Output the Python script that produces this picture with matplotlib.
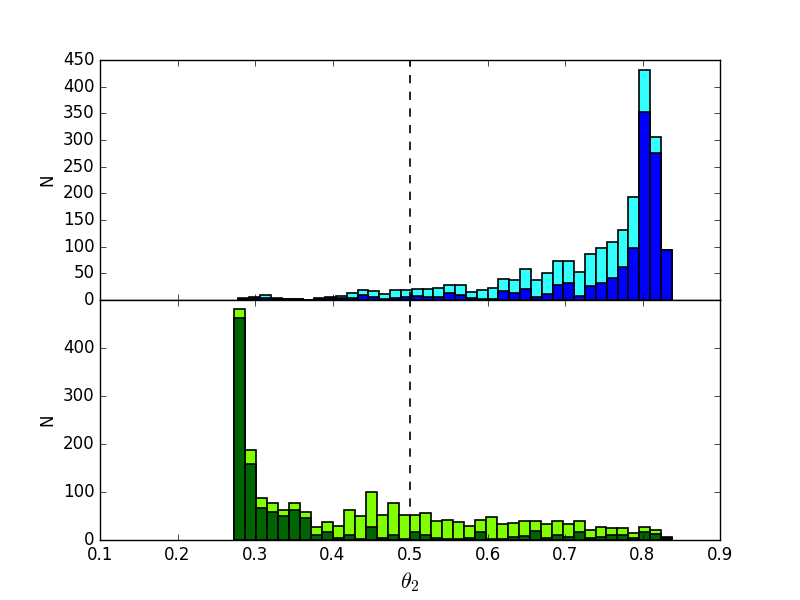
import numpy as np
import matplotlib
matplotlib.use('Agg')
import matplotlib.pyplot as plt

plt.style.use('classic')

# bin ranges (theta_2) for the two histograms, 40 bins each
top_range = (0.2787, 0.8378)
bot_range = (0.2735, 0.8382)
nbins = 40

# top panel: all (cyan) and subset (blue)
top_all = [3, 6, 9, 3, 2, 1, 0, 4, 6, 8, 14, 19, 16, 11, 18, 19, 20, 21, 22, 28,
           28, 15, 19, 23, 39, 37, 58, 38, 50, 74, 74, 53, 87, 98, 109, 131, 194, 432, 305, 94]
top_sub = [2, 4, 4, 2, 1, 1, 0, 2, 3, 4, 4, 9, 5, 2, 4, 5, 7, 6, 5, 14,
           10, 4, 1, 2, 17, 13, 21, 6, 12, 28, 32, 7, 27, 32, 41, 61, 98, 352, 276, 94]

# bottom panel: all (light green) and subset (dark green)
bot_all = [481, 187, 87, 78, 62, 78, 58, 28, 38, 29, 62, 51, 100, 52, 78, 53, 52, 57, 39, 41,
           37, 29, 42, 48, 33, 36, 39, 40, 34, 40, 34, 39, 21, 28, 24, 25, 15, 28, 21, 7]
bot_sub = [463, 159, 66, 58, 49, 63, 45, 10, 17, 5, 10, 3, 27, 4, 10, 3, 17, 11, 5, 3,
           2, 4, 17, 3, 2, 7, 8, 18, 5, 10, 6, 16, 5, 6, 10, 10, 4, 17, 12, 4]

top_edges = np.linspace(top_range[0], top_range[1], nbins + 1)
bot_edges = np.linspace(bot_range[0], bot_range[1], nbins + 1)

fig = plt.figure(figsize=(8, 6), dpi=100)
ax1 = fig.add_subplot(2, 1, 1)
ax2 = fig.add_subplot(2, 1, 2, sharex=ax1)
fig.subplots_adjust(hspace=0)

ax1.bar(top_edges[:-1], top_all, width=np.diff(top_edges), align='edge',
        color='#33ffff', edgecolor='k', linewidth=1.2)
ax1.bar(top_edges[:-1], top_sub, width=np.diff(top_edges), align='edge',
        color='#0000ff', edgecolor='k', linewidth=1.2)
ax1.axvline(0.5, color='k', linestyle='--', linewidth=1.2)
ax1.set_ylim(0, 450)
ax1.set_yticks(np.arange(0, 451, 50))
ax1.set_ylabel('N')
plt.setp(ax1.get_xticklabels(), visible=False)

ax2.bar(bot_edges[:-1], bot_all, width=np.diff(bot_edges), align='edge',
        color='#7fff00', edgecolor='k', linewidth=1.2)
ax2.bar(bot_edges[:-1], bot_sub, width=np.diff(bot_edges), align='edge',
        color='#006400', edgecolor='k', linewidth=1.2)
ax2.axvline(0.5, color='k', linestyle='--', linewidth=1.2)
ax2.set_ylim(0, 500)
ax2.set_yticks(np.arange(0, 401, 100))
ax2.set_ylabel('N')
ax2.set_xlim(0.1, 0.9)
ax2.set_xticks(np.arange(0.1, 0.91, 0.1))
ax2.set_xlabel(r'$\theta_2$', fontsize=16)

fig.savefig('out.png', dpi=100)
